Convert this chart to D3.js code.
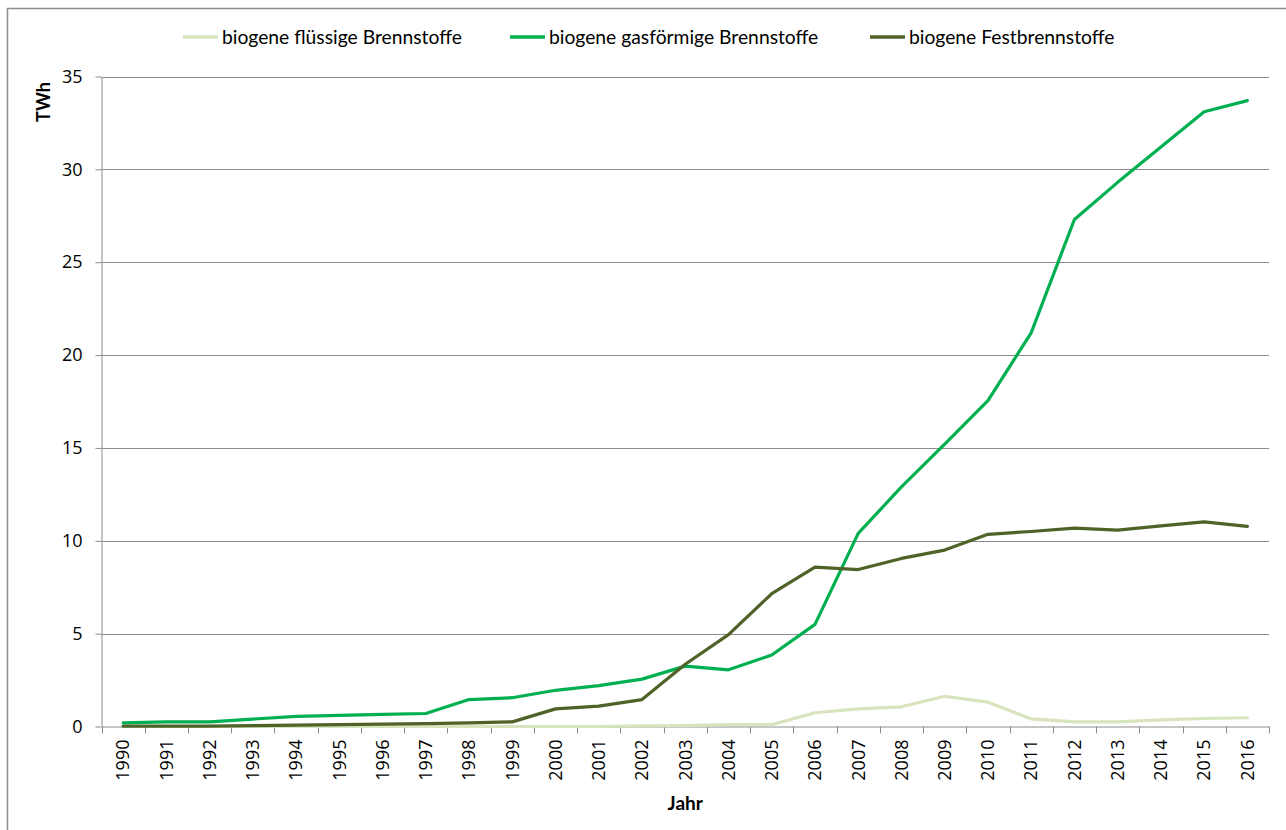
<!DOCTYPE html>
<html>
<head>
<meta charset="utf-8">
<script src="https://cdn.jsdelivr.net/npm/d3@7"></script>
<style>
  body { margin: 0; background: #fff; }
  svg { display: block; }
</style>
</head>
<body>
<div id="diagram"></div>
<script>
// data (TWh)
const years = ['1990','1991','1992','1993','1994','1995','1996','1997','1998','1999',
  '2000','2001','2002','2003','2004','2005','2006','2007','2008','2009',
  '2010','2011','2012','2013','2014','2015','2016'];
const fluessig = [0, 0, 0, 0, 0, 0, 0, 0, 0, 0,
  0, 0, 0.03, 0.05, 0.1, 0.1, 0.74, 0.95, 1.06, 1.63,
  1.31, 0.41, 0.25, 0.25, 0.36, 0.43, 0.47];
const gasfoermig = [0.2, 0.25, 0.25, 0.4, 0.55, 0.6, 0.65, 0.7, 1.45, 1.55,
  1.95, 2.2, 2.55, 3.25, 3.05, 3.85, 5.5, 10.4, 12.9, 15.2,
  17.55, 21.2, 27.3, 29.3, 31.2, 33.1, 33.7];
const fest = [0.02, 0.02, 0.02, 0.05, 0.07, 0.1, 0.13, 0.16, 0.2, 0.25,
  0.95, 1.1, 1.45, 3.35, 4.95, 7.15, 8.58, 8.45, 9.05, 9.5,
  10.35, 10.5, 10.68, 10.57, 10.8, 11.02, 10.78];
const seriesNames = ['biogene flüssige Brennstoffe', 'biogene gasförmige Brennstoffe', 'biogene Festbrennstoffe'];
const seriesColors = ['#d7e4bd', '#00b050', '#4f6228'];
const yTicks = [0, 5, 10, 15, 20, 25, 30, 35];

!(function () {
  const width = 1286, height = 830;
  const plotLeft = 101.5, plotRight = 1269, plotTop = 76.5, plotBottom = 726.5;

  const svg = d3.select('#diagram')
    .append('svg')
    .attr('width', width)
    .attr('height', height);

  // chart border
  svg.append('rect')
    .attr('x', 7.5).attr('y', 8.5)
    .attr('width', 1400).attr('height', 1000)
    .style('fill', 'none')
    .style('stroke', '#8c8c8c')
    .style('stroke-width', 1.5);

  const x = d3.scaleBand().domain(years).range([plotLeft, plotRight]);
  const y = d3.scaleLinear().domain([0, 35]).range([plotBottom, plotTop]);

  // gridlines
  svg.append('g')
    .selectAll('line')
    .data(yTicks.filter(d => d > 0))
    .enter()
    .append('line')
    .attr('x1', plotLeft).attr('x2', plotRight)
    .attr('y1', d => Math.round(y(d)) + 0.5)
    .attr('y2', d => Math.round(y(d)) + 0.5)
    .style('stroke', '#8c8c8c')
    .style('stroke-width', 1);

  // y axis
  const yAxis = svg.append('g')
    .attr('transform', 'translate(' + plotLeft + ',0)')
    .call(d3.axisLeft(y).tickValues(yTicks).tickSize(6).tickPadding(13).tickSizeOuter(0));
  yAxis.select('.domain').style('stroke', '#8c8c8c');
  yAxis.selectAll('.tick line').style('stroke', '#8c8c8c');
  yAxis.selectAll('text')
    .style('font-family', '"Open Sans"')
    .style('font-size', '18px')
    .style('fill', '#000');

  // x axis
  const xAxis = svg.append('g')
    .attr('transform', 'translate(0,' + plotBottom + ')')
    .call(d3.axisBottom(x).tickSize(0).tickSizeOuter(0));
  xAxis.select('.domain').style('stroke', '#8c8c8c');
  xAxis.selectAll('text')
    .attr('transform', 'rotate(-90)')
    .attr('x', -13)
    .attr('y', 0)
    .attr('dy', '0.35em')
    .style('text-anchor', 'end')
    .style('font-family', '"Open Sans"')
    .style('font-size', '18px')
    .style('fill', '#000');

  // category boundary ticks
  svg.append('g')
    .selectAll('line')
    .data(years.concat(['end']))
    .enter()
    .append('line')
    .attr('x1', (d, i) => Math.round(plotLeft + i * x.step()) + 0.5)
    .attr('x2', (d, i) => Math.round(plotLeft + i * x.step()) + 0.5)
    .attr('y1', plotBottom)
    .attr('y2', plotBottom + 7)
    .style('stroke', '#8c8c8c');

  // lines
  const allSeries = [fluessig, gasfoermig, fest];
  const line = d3.line()
    .x((d, i) => x(years[i]) + x.bandwidth() / 2)
    .y(d => y(d));

  svg.append('g')
    .selectAll('path')
    .data(allSeries)
    .enter()
    .append('path')
    .attr('d', d => line(d))
    .style('fill', 'none')
    .style('stroke', (d, i) => seriesColors[i])
    .style('stroke-width', 3.2)
    .style('stroke-linejoin', 'round')
    .style('stroke-linecap', 'round');

  // axis titles
  svg.append('text')
    .attr('transform', 'translate(50,102) rotate(-90)')
    .style('text-anchor', 'middle')
    .style('font-family', 'Lato')
    .style('font-weight', 'bold')
    .style('font-size', '18px')
    .text('TWh');

  svg.append('text')
    .attr('x', (plotLeft + plotRight) / 2)
    .attr('y', 810)
    .style('text-anchor', 'middle')
    .style('font-family', 'Lato')
    .style('font-weight', 'bold')
    .style('font-size', '19px')
    .text('Jahr');

  // legend
  const legendX = [183, 510, 870];
  const legend = svg.append('g')
    .selectAll('g')
    .data(seriesNames)
    .enter()
    .append('g')
    .attr('transform', (d, i) => 'translate(' + legendX[i] + ',37)');
  legend.append('line')
    .attr('x1', 0).attr('x2', 35)
    .style('stroke', (d, i) => seriesColors[i])
    .style('stroke-width', 3.5);
  legend.append('text')
    .attr('x', 39)
    .attr('dy', '0.35em')
    .style('font-family', 'Lato')
    .style('font-size', '19.3px')
    .text(d => d);
}());
</script>
</body>
</html>
